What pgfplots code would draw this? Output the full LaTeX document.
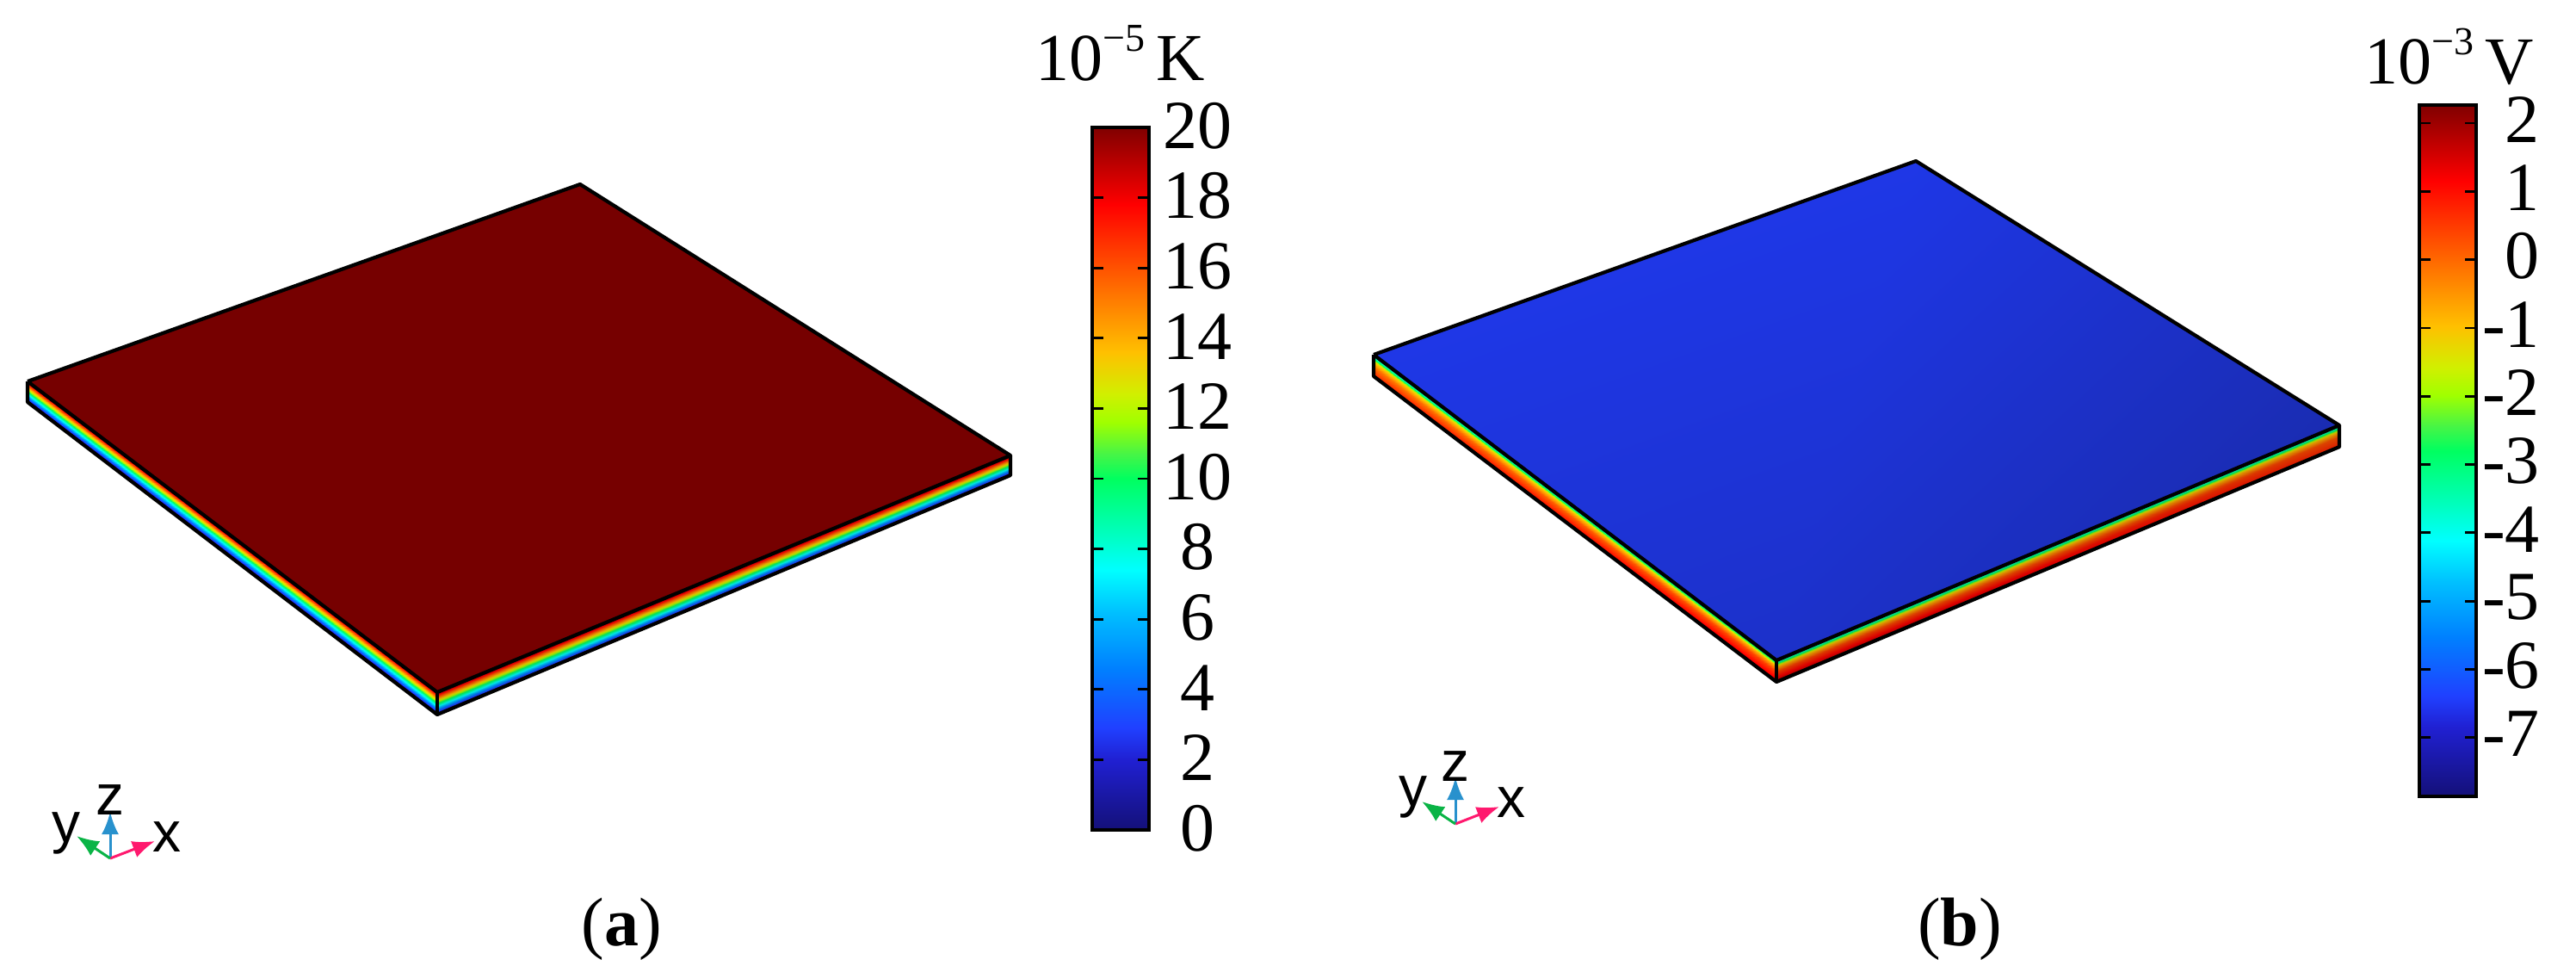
\documentclass[border=0pt]{standalone}
\usepackage{fontspec}
\setmainfont{Liberation Serif}
\newfontfamily\sansf{Liberation Sans}
\usepackage{pgfplots}
\pgfplotsset{compat=1.18}
\usetikzlibrary{arrows.meta}
\pgfplotsset{
 colormap={rb}{
  rgb255(0pt)=(20,16,120)
  rgb255(10pt)=(32,32,210)
  rgb255(14.5pt)=(32,64,255)
  rgb255(23pt)=(0,128,255)
  rgb255(31pt)=(0,192,255)
  rgb255(37pt)=(0,255,255)
  rgb255(42pt)=(0,255,192)
  rgb255(50pt)=(0,255,96)
  rgb255(53.5pt)=(70,245,70)
  rgb255(58pt)=(160,255,0)
  rgb255(62pt)=(208,240,0)
  rgb255(68pt)=(255,192,0)
  rgb255(75pt)=(255,128,0)
  rgb255(89pt)=(255,0,0)
  rgb255(100pt)=(128,0,0)
 },
 colormap={face}{
  rgb255(0pt)=(26,44,178)
  rgb255(100pt)=(31,56,235)
 }
}
\newcommand{\lab}{\fontsize{20}{20}\selectfont}
\newcommand{\unit}[2]{\fontsize{19.5}{19.5}\selectfont 10\raisebox{8.5pt}{\fontsize{11.5}{11.5}\selectfont −#1}\,#2}
\pgfplotsset{cb/.style={
  scale only axis, anchor=south west, width=16.5pt,
  xmin=0, xmax=1, xtick=\empty, axis on top,
  tick align=inside, ytick pos=both, yticklabel pos=right,
  major tick length=3.3pt,
  tick style={black, line width=.7pt},
  axis line style={black, line width=1pt},
  tick label style={font=\lab},
}}
\pgfplotsset{tr/.style={-{Latex[length=6.5pt,width=5pt]}, line width=.75pt}}
\begin{document}
\begin{tikzpicture}[x=1pt,y=1pt]
\path[use as bounding box] (0,0) rectangle (748.25pt,282pt);
\begin{axis}[
  at={(0pt,0pt)}, anchor=south west, scale only axis,
  width=748.25pt, height=282pt,
  xmin=0, xmax=2993, ymin=0, ymax=1128, y dir=reverse,
  hide axis, clip=false,
  point meta min=0, point meta max=100,
  colormap name=rb,
]
% ---- panel (a): sides
\addplot[surf, shader=interp, mesh/rows=2, point meta=explicit] table[x=x,y=y,meta=c] {
x y c
32 443 100
508 804 100
32 467 0
508 830 0
};
\addplot[surf, shader=interp, mesh/rows=2, point meta=explicit] table[x=x,y=y,meta=c] {
x y c
508 804 100
1174 529 100
508 830 0
1174 552 0
};
\addplot[fill=black, fill opacity=.1, draw=none] coordinates {(508,804) (1174,529) (1174,552) (508,830) (508,804)};
% ---- panel (a): top
\addplot[fill={rgb,255:red,118;green,0;blue,0}, draw=black, line width=1.05pt, line join=round] coordinates {(32,443) (674,214) (1174,529) (508,804) (32,443)};
\addplot[black, line width=1.05pt, line join=round] coordinates {(32,443) (32,467) (508,830) (1174,552) (1174,529)};
\addplot[black, line width=1.05pt] coordinates {(508,804) (508,830)};
% ---- panel (b): sides
\addplot[surf, shader=interp, mesh/rows=5, point meta=explicit] table[x=x,y=y,meta=c] {
x y c
1596 412 38
2064 767 38
1596 416 45
2064 770 50
1596 420 66
2064 774 70
1596 426 76
2064 780 82
1596 437 86
2064 792 93
};
\addplot[surf, shader=interp, mesh/rows=5, point meta=explicit] table[x=x,y=y,meta=c] {
x y c
2064 767 40
2718 494 40
2064 770 46
2718 497 46
2064 774 68
2718 501 68
2064 780 82
2718 507 80
2064 792 96
2718 519 86
};
\addplot[fill=black, fill opacity=.14, draw=none] coordinates {(2064,767) (2718,494) (2718,519) (2064,792) (2064,767)};
% ---- panel (b): top
\addplot[surf, colormap name=face, shader=interp, mesh/rows=2, point meta=explicit] table[x=x,y=y,meta=c] {
x y c
1596 412 92
2226 187 92
2064 767 40
2718 494 0
};
\addplot[black, line width=1.05pt, line join=round] coordinates {(1596,412) (2226,187) (2718,494) (2064,767) (1596,412)};
\addplot[black, line width=1.05pt, line join=round] coordinates {(1596,412) (1596,437) (2064,792) (2718,519) (2718,494)};
\addplot[black, line width=1.05pt] coordinates {(2064,767) (2064,792)};
% ---- triads
\addplot[tr, color={rgb,255:red,40;green,145;blue,205}] coordinates {(128,997) (128,943)};
\addplot[tr, color={rgb,255:red,255;green,25;blue,110}] coordinates {(128,997) (180,977)};
\addplot[tr, color={rgb,255:red,10;green,180;blue,70}] coordinates {(128,997) (89,971)};
\addplot[tr, color={rgb,255:red,40;green,145;blue,205}] coordinates {(1691,957) (1691,903)};
\addplot[tr, color={rgb,255:red,255;green,25;blue,110}] coordinates {(1691,957) (1742,937)};
\addplot[tr, color={rgb,255:red,10;green,180;blue,70}] coordinates {(1691,957) (1652,931)};
\node[font=\sansf\fontsize{16.5}{16.5}\selectfont] at (axis cs:128,929) {z};
\node[font=\sansf\fontsize{16.5}{16.5}\selectfont] at (axis cs:77,968) {y};
\node[font=\sansf\fontsize{16.5}{16.5}\selectfont] at (axis cs:194,972) {x};
\node[font=\sansf\fontsize{16.5}{16.5}\selectfont] at (axis cs:1691,890) {z};
\node[font=\sansf\fontsize{16.5}{16.5}\selectfont] at (axis cs:1642,926) {y};
\node[font=\sansf\fontsize{16.5}{16.5}\selectfont] at (axis cs:1756,932) {x};
% ---- captions and units
\node[font=\fontsize{20}{20}\selectfont] at (axis cs:722,1079) {(\textbf{a})};
\node[font=\fontsize{20}{20}\selectfont] at (axis cs:2277,1079) {(\textbf{b})};
\node[anchor=base] at (axis cs:1302,93) {\unit{5}{K}};
\node[anchor=base] at (axis cs:2846,97) {\unit{3}{V}};
\end{axis}
% ---- colour bar (a)
\begin{axis}[cb, at={(317.25pt,41pt)}, height=204pt,
  ymin=0, ymax=20, ytick={0,2,...,20},
  yticklabels={0,2,4,6,8,10,12,14,16,18,20},
  yticklabel style={anchor=center, xshift=14pt, yshift=.5pt},
  point meta min=0, point meta max=20, colormap name=rb]
\addplot[surf, shader=interp, mesh/rows=2, point meta=explicit] table[x=x,y=y,meta=c] {
x y c
0 0 0
1 0 0
0 20 20
1 20 20
};
\end{axis}
% ---- colour bar (b)
\begin{axis}[cb, at={(702.75pt,50.75pt)}, height=200.75pt,
  ymin=-7.861, ymax=2.265, ytick={-7,-6,...,2},
  yticklabels={-7,-6,-5,-4,-3,-2,-1,0,1,2},
  yticklabel style={anchor=east, xshift=22pt, yshift=1pt},
  point meta min=-7.861, point meta max=2.265, colormap name=rb]
\addplot[surf, shader=interp, mesh/rows=2, point meta=explicit] table[x=x,y=y,meta=c] {
x y c
0 -7.861 -7.861
1 -7.861 -7.861
0 2.265 2.265
1 2.265 2.265
};
\end{axis}
\end{tikzpicture}
\end{document}
